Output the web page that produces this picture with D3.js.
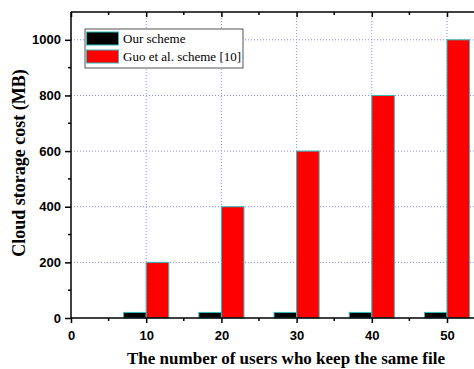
<!DOCTYPE html>
<html>
<head>
<meta charset="utf-8">
<script src="https://cdn.jsdelivr.net/npm/d3@7"></script>
<style>
  body { margin: 0; background: #fff; }
  svg { display: block; }
</style>
</head>
<body>
<svg id="chart" width="474" height="369"></svg>
<script>
// Number of users keeping the same file
const userCounts = [10, 20, 30, 40, 50];
// Storage cost (MB) for each scheme
const ourScheme = [20, 20, 20, 20, 20];
const guoScheme = [200, 400, 600, 800, 1000];
const seriesNames = ["Our scheme", "Guo et al. scheme [10]"];
const seriesColors = ["#000000", "#ff0000"];
const xTicks = [0, 10, 20, 30, 40, 50];
const xMinorTicks = [5, 15, 25, 35, 45];
const yTicks = [0, 200, 400, 600, 800, 1000];
const yMinorTicks = [100, 300, 500, 700, 900];

const svg = d3.select("#chart");
const margin = { left: 71, top: 12, bottom: 318 };
const x = d3.scaleLinear().domain([0, 55]).range([margin.left, margin.left + 55 * 7.52]);
const y = d3.scaleLinear().domain([0, 1100]).range([margin.bottom, margin.top]);

const outline = "#33bbbb";
const gridColor = "#8c8cff";

// grid
const grid = svg.append("g");
grid.selectAll(".gx").data(xTicks.filter(d => d > 0)).join("line")
  .attr("x1", d => x(d)).attr("x2", d => x(d))
  .attr("y1", y(1100)).attr("y2", y(0))
  .attr("stroke", gridColor).attr("stroke-width", 1).attr("stroke-dasharray", "1,2");
grid.selectAll(".gy").data(yTicks.filter(d => d > 0)).join("line")
  .attr("x1", x(0)).attr("x2", x(55))
  .attr("y1", d => y(d)).attr("y2", d => y(d))
  .attr("stroke", gridColor).attr("stroke-width", 1).attr("stroke-dasharray", "1,2");

// bars
const barW = 3;
const series = [ourScheme, guoScheme];
series.forEach((vals, si) => {
  svg.append("g").selectAll("rect").data(vals).join("rect")
    .attr("x", (d, i) => x(userCounts[i] + (si === 0 ? -barW : 0)))
    .attr("width", x(barW) - x(0))
    .attr("y", d => y(d))
    .attr("height", d => y(0) - y(d))
    .attr("fill", seriesColors[si])
    .attr("stroke", outline).attr("stroke-width", 1);
});

// axes
const tickFont = "bold 13px Arial, 'Liberation Sans', sans-serif";
const xAxis = d3.axisBottom(x).tickValues(xTicks).tickSize(5).tickFormat(d3.format("d"));
const gx = svg.append("g").attr("transform", `translate(0,${y(0)})`).call(xAxis);
gx.select(".domain").attr("stroke", "#000").attr("stroke-width", 1.5).attr("d", `M${x(0)},0H${x(55)}`);
gx.selectAll(".tick line").attr("stroke-width", 1.5);
gx.selectAll(".tick text").style("font", tickFont).attr("dy", "1.05em").attr("fill", "#000");
gx.append("g").selectAll("line").data(xMinorTicks).join("line")
  .attr("x1", d => x(d)).attr("x2", d => x(d)).attr("y1", 0).attr("y2", 3)
  .attr("stroke", "#000").attr("stroke-width", 1.5);

const xTop = d3.axisBottom(x).tickValues(xTicks).tickSize(5).tickFormat("");
const gxt = svg.append("g").attr("transform", `translate(0,${y(1100)})`).call(xTop);
gxt.select(".domain").attr("stroke", "#000").attr("stroke-width", 1.5).attr("d", `M${x(0)},0H${x(55)}`);
gxt.selectAll(".tick line").attr("stroke-width", 1.5);
gxt.append("g").selectAll("line").data(xMinorTicks).join("line")
  .attr("x1", d => x(d)).attr("x2", d => x(d)).attr("y1", 0).attr("y2", 3)
  .attr("stroke", "#000").attr("stroke-width", 1.5);

const yAxis = d3.axisLeft(y).tickValues(yTicks).tickSize(6).tickPadding(4).tickFormat(d3.format("d"));
const gy = svg.append("g").attr("transform", `translate(${x(0)},0)`).call(yAxis);
gy.select(".domain").attr("stroke", "#000").attr("stroke-width", 1.5).attr("d", `M0,${y(0)}V${y(1100)}`);
gy.selectAll(".tick line").attr("stroke-width", 1.5);
gy.selectAll(".tick text").style("font", tickFont).attr("fill", "#000");
gy.append("g").selectAll("line").data(yMinorTicks).join("line")
  .attr("x1", 0).attr("x2", -3).attr("y1", d => y(d)).attr("y2", d => y(d))
  .attr("stroke", "#000").attr("stroke-width", 1.5);

// axis titles
svg.append("text")
  .attr("x", 286).attr("y", 364).attr("text-anchor", "middle")
  .style("font", "bold 17px 'Times New Roman', 'Liberation Serif', serif").attr("fill", "#000")
  .text("The number of users who keep the same file");
svg.append("text")
  .attr("transform", `translate(25,${(y(0) + y(1100)) / 2 - 2}) rotate(-90)`)
  .attr("text-anchor", "middle")
  .style("font", "bold 18px 'Times New Roman', 'Liberation Serif', serif").attr("fill", "#000")
  .text("Cloud storage cost (MB)");

// legend
const lg = svg.append("g").attr("transform", "translate(85,29)");
lg.append("rect").attr("width", 158).attr("height", 39)
  .attr("fill", "#fff").attr("stroke", "#555").attr("stroke-width", 1);
seriesNames.forEach((name, i) => {
  lg.append("rect").attr("x", 1.5).attr("y", 3 + i * 18).attr("width", 32).attr("height", 13)
    .attr("fill", seriesColors[i]).attr("stroke", outline).attr("stroke-width", 1);
  lg.append("text").attr("x", 38).attr("y", 14 + i * 18)
    .style("font", "13px 'Times New Roman', 'Liberation Serif', serif").attr("fill", "#000")
    .text(name);
});
</script>
</body>
</html>
